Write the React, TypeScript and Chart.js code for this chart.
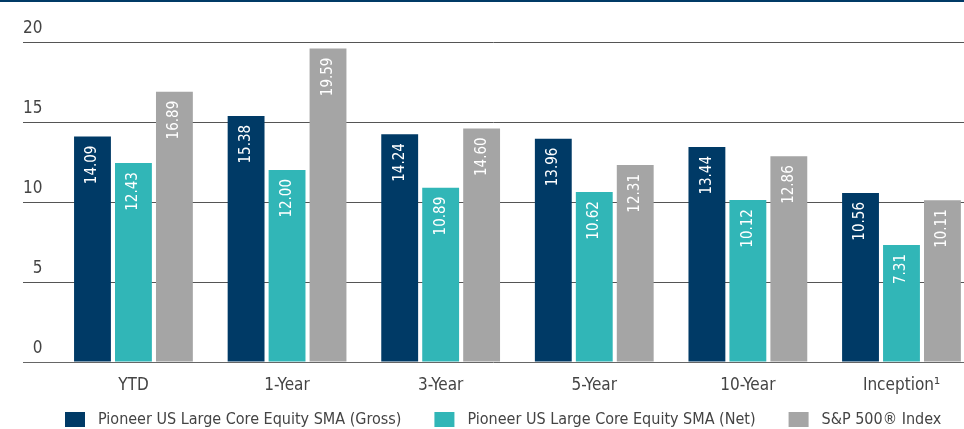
import React, { useEffect, useRef } from "react";
import { Chart, registerables } from "chart.js";

Chart.register(...registerables);

// Annualised returns (%) by period
const periods = ["YTD", "1-Year", "3-Year", "5-Year", "10-Year", "Inception\u00B9"];
const grossReturns = [14.09, 15.38, 14.24, 13.96, 13.44, 10.56];
const netReturns = [12.43, 12.0, 10.89, 10.62, 10.12, 7.31];
const indexReturns = [16.89, 19.59, 14.6, 12.31, 12.86, 10.11];
const seriesNames = [
  "Pioneer US Large Core Equity SMA (Gross)",
  "Pioneer US Large Core Equity SMA (Net)",
  "S&P 500\u00AE Index",
];
const yTicks = [0, 5, 10, 15, 20];

const NAVY = "#003a66";
const TEAL = "#31b6b7";
const GREY = "#a5a5a5";
const TEXT = "#444444";
const FONT = "'Liberation Sans Narrow', 'DejaVu Sans Condensed', 'Liberation Sans', sans-serif";

const colors = [NAVY, TEAL, GREY];

// Rotated value labels inside the top of each bar
const barValueLabels = {
  id: "barValueLabels",
  afterDatasetsDraw(chart: any) {
    const ctx = chart.ctx;
    ctx.save();
    ctx.fillStyle = "#ffffff";
    ctx.font = `15px ${FONT}`;
    ctx.textAlign = "right";
    ctx.textBaseline = "middle";
    chart.data.datasets.forEach((ds: any, di: number) => {
      const meta = chart.getDatasetMeta(di);
      meta.data.forEach((bar: any, i: number) => {
        const v = ds.data[i].y;
        ctx.save();
        ctx.translate(bar.x, bar.y + 9);
        ctx.rotate(-Math.PI / 2);
        ctx.fillText(v.toFixed(2), 0, 0);
        ctx.restore();
      });
    });
    ctx.restore();
  },
};

// Top rule and the legend row under the axis labels
const frameAndLegend = {
  id: "frameAndLegend",
  afterDraw(chart: any) {
    const ctx = chart.ctx;
    ctx.save();
    ctx.fillStyle = NAVY;
    ctx.fillRect(0, 0, chart.width, 2);

    ctx.font = `16px ${FONT}`;
    ctx.textAlign = "left";
    ctx.textBaseline = "middle";
    let x = 65;
    const boxY = 412;
    seriesNames.forEach((name, i) => {
      ctx.fillStyle = colors[i];
      ctx.fillRect(x, boxY, 20, 15);
      ctx.fillStyle = TEXT;
      const tx = x + 33;
      ctx.fillText(name, tx, boxY + 8);
      x = tx + ctx.measureText(name).width + 33;
    });
    ctx.restore();
  },
};

export default function App() {
  const canvasRef = useRef<HTMLCanvasElement | null>(null);

  useEffect(() => {
    if (!canvasRef.current) return;
    const series = [grossReturns, netReturns, indexReturns];
    const chart = new Chart(canvasRef.current, {
      type: "bar",
      data: {
        datasets: series.map((vals, si) => ({
          label: seriesNames[si],
          data: vals.map((v, i) => ({ x: i, y: v })),
          backgroundColor: colors[si],
          borderWidth: 0,
          categoryPercentage: 0.8,
          barPercentage: 0.9,
        })),
      },
      plugins: [barValueLabels, frameAndLegend],
      options: {
        animation: false,
        responsive: false,
        layout: { padding: { left: 23, top: 42, right: 0, bottom: 0 } },
        plugins: {
          legend: { display: false },
          tooltip: { enabled: false },
        },
        scales: {
          x: {
            type: "linear",
            offset: false,
            min: -0.719,
            max: 5.407,
            grid: { display: false },
            border: { display: false },
            afterBuildTicks(scale: any) {
              scale.ticks = periods.map((_, i) => ({ value: i }));
            },
            afterFit(scale: any) {
              scale.height = 67;
            },
            ticks: {
              padding: 5,
              color: TEXT,
              font: { family: FONT, size: 17 },
              maxRotation: 0,
              autoSkip: false,
              callback: (v: any) => periods[v] ?? "",
            },
          },
          y: {
            min: 0,
            max: 20,
            afterBuildTicks(scale: any) {
              scale.ticks = yTicks.map((v) => ({ value: v }));
            },
            grid: {
              color: (c: any) => (c.tick && c.tick.value === 0 ? "#666666" : "#555555"),
              lineWidth: 1,
              drawTicks: false,
            },
            border: { display: false },
            ticks: {
              mirror: true,
              padding: 0,
              crossAlign: "far",
              labelOffset: -13,
              color: TEXT,
              font: { family: FONT, size: 17 },
            },
          },
        },
      } as any,
    });
    return () => chart.destroy();
  }, []);

  return (
    <div style={{ position: "absolute", left: 0, top: 0, width: 964, height: 429, background: "#fff" }}>
      <canvas ref={canvasRef} width={964} height={429} style={{ display: "block" }} />
    </div>
  );
}
